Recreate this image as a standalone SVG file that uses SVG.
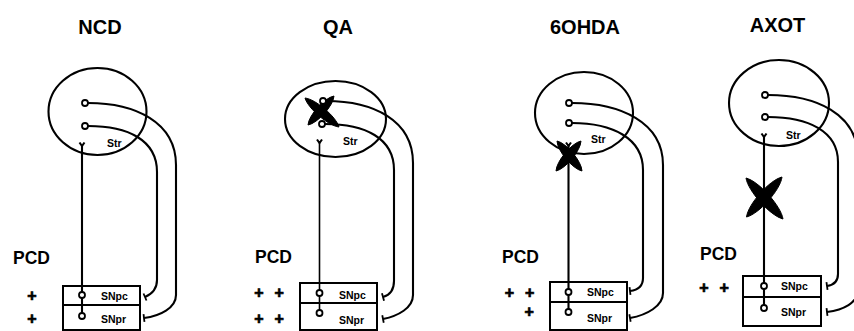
<svg xmlns="http://www.w3.org/2000/svg" width="854" height="331" viewBox="0 0 854 331">
<style>
.bg{fill:#fff}
.ln{fill:none;stroke:#000;stroke-width:2.1}
.str{fill:none;stroke:#000;stroke-width:2.1}
.term{fill:#fff;stroke:#000;stroke-width:1.8}
.box{fill:#fff;stroke:#000;stroke-width:2}
.x{fill:#000;stroke:#000;stroke-width:1}
.title{font-family:"Liberation Sans",Arial,sans-serif;font-weight:bold;font-size:20px;text-anchor:middle;fill:#000}
.pcd{font-family:"Liberation Sans",Arial,sans-serif;font-weight:bold;font-size:17.5px;fill:#000}
.plus{font-family:"Liberation Sans",Arial,sans-serif;font-weight:bold;font-size:16px;fill:#000;stroke:#000;stroke-width:0.7;word-spacing:6.3px}
.sm{font-family:"Liberation Sans",Arial,sans-serif;font-weight:bold;font-size:10.5px;fill:#000}
</style>
<defs>
<marker id="tick" markerUnits="userSpaceOnUse" markerWidth="10" markerHeight="10" refX="0" refY="0" orient="auto" viewBox="-5 -5 10 10" overflow="visible">
<path d="M0,-3.8 L0,3.8" stroke="#000" stroke-width="1.8" fill="none"/>
</marker>
</defs>
<rect class="bg" x="0" y="0" width="854" height="331"/>

<!-- Panel NCD -->
<g id="ncd">
<text class="title" x="100" y="34">NCD</text>
<g id="ncd-str"><ellipse class="str" cx="97.5" cy="111.5" rx="49" ry="43.5"/><text class="sm" x="107" y="147">Str</text></g>
<g id="ncd-sn"><rect class="box" x="63" y="286" width="77" height="44"/><line class="ln" x1="63" y1="305" x2="140" y2="305"/>
<text class="sm" x="101" y="299.5">SNpc</text><text class="sm" x="101" y="322.5">SNpr</text></g>
<text class="pcd" x="13" y="264">PCD</text>
<text class="plus" x="27.3" y="300.6">+</text>
<text class="plus" x="27.3" y="323.6">+</text>
</g>

<!-- Panel QA -->
<g id="qa">
<text class="title" x="338" y="34">QA</text>
<g id="qa-str"><ellipse class="str" cx="335.5" cy="119" rx="50.5" ry="38"/><text class="sm" x="343" y="145">Str</text></g>
<g id="qa-sn"><rect class="box" x="300" y="283" width="77" height="47"/><line class="ln" x1="300" y1="303" x2="377" y2="303"/>
<text class="sm" x="339" y="298.5">SNpc</text><text class="sm" x="339" y="323.5">SNpr</text></g>
<text class="pcd" x="255" y="263">PCD</text>
<text class="plus" x="254.3" y="297.6">+ +</text>
<text class="plus" x="254.3" y="323.6">+ +</text>
</g>

<!-- Panel 6OHDA -->
<g id="ohda">
<text class="title" x="585" y="34">6OHDA</text>
<g id="ohda-str"><ellipse class="str" cx="584" cy="113" rx="49" ry="41"/><text class="sm" x="591" y="143">Str</text></g>
<g id="ohda-sn"><rect class="box" x="550" y="282" width="77" height="48"/><line class="ln" x1="550" y1="302" x2="627" y2="302"/>
<text class="sm" x="587" y="295.5">SNpc</text><text class="sm" x="587" y="321.5">SNpr</text></g>
<text class="pcd" x="502" y="263">PCD</text>
<text class="plus" x="504.8" y="297.6">+ +</text>
<text class="plus" x="524.5" y="316.8">+</text>
</g>

<!-- Panel AXOT -->
<g id="axot">
<text class="title" x="777.5" y="32">AXOT</text>
<g id="axot-str"><ellipse class="str" cx="779" cy="103" rx="50" ry="43"/><text class="sm" x="786" y="139">Str</text></g>
<g id="axot-sn"><rect class="box" x="743" y="276" width="78" height="50"/><line class="ln" x1="743" y1="297" x2="821" y2="297"/>
<text class="sm" x="781" y="290">SNpc</text><text class="sm" x="781" y="316">SNpr</text></g>
<text class="pcd" x="700" y="260">PCD</text>
<text class="plus" x="699.3" y="292.6">+ +</text>
</g>

<!-- Connectors -->
<g id="connectors">
<!-- NCD -->
<path class="ln" d="M82,146 L82,316"/>
<path class="ln" d="M79.5,142.5 L82,146 L84.5,142.5"/>
<path class="ln" d="M88,103 C135,103 176,122 176,165 L176,295 C176,308 160,316 144,318" marker-end="url(#tick)"/>
<path class="ln" d="M88,126 C128,126 157,140 157,172 L157,280 C157,289 152,294 145,297" marker-end="url(#tick)"/>
<circle class="term" cx="85" cy="103" r="3"/><circle class="term" cx="85" cy="126" r="3"/>
<circle class="term" cx="82" cy="295" r="3"/><circle class="term" cx="82" cy="316" r="3"/>
<!-- QA -->
<path class="ln" d="M319.5,143 L319.5,313" style="stroke-width:1.6"/>
<path class="ln" d="M317,139.5 L319.5,143 L322,139.5"/>
<path class="ln" d="M326,101 C373,101 413,120 413,163 L413,295 C413,308 398,316 383,319" marker-end="url(#tick)"/>
<path class="ln" d="M325,124 C365,124 394,138 394,170 L394,281 C394,290 390,295 383,297" marker-end="url(#tick)"/>
<path class="x" d="M305,98 C307.9,108.4 328.3,125.8 339,127 C336.1,116.6 315.7,99.2 305,98 Z"/>
<path class="x" d="M334,96 C333.3,105.8 317.7,123.2 308,125 C308.7,115.2 324.3,97.8 334,96 Z"/>
<circle class="term" cx="323" cy="101" r="3"/><circle class="term" cx="322" cy="124" r="3"/>
<circle class="term" cx="319.5" cy="293" r="3"/><circle class="term" cx="319.5" cy="313" r="3"/>
<!-- 6OHDA -->
<path class="ln" d="M568.5,146 L568.5,312"/>
<path class="ln" d="M566,142.5 L568.5,146 L571,142.5"/>
<path class="ln" d="M572,103 C620,103 663,122 663,165 L663,293 C663,306 647,315 630,318" marker-end="url(#tick)"/>
<path class="ln" d="M572,123 C612,123 643,138 643,170 L643,278 C643,286 638,290 630,291" marker-end="url(#tick)"/>
<circle class="term" cx="569" cy="103" r="3"/><circle class="term" cx="569" cy="123" r="3"/>
<circle class="term" cx="568.5" cy="292" r="3"/><circle class="term" cx="568.5" cy="312" r="3"/>
<path class="x" d="M557,141 C557.4,150.85 572.4,168.85 582,171 C581.6,161.15 566.6,143.15 557,141 Z"/>
<path class="x" d="M581,141 C580.6,150.85 565.6,168.85 556,171 C556.4,161.15 571.4,143.15 581,141 Z"/>
<!-- AXOT -->
<path class="ln" d="M764,137 L764,308"/>
<path class="ln" d="M761.5,133.5 L764,137 L766.5,133.5"/>
<path class="ln" d="M768,95 C815,95 858,113 858,158 L858,290 C858,303 843,310 827,312" marker-end="url(#tick)"/>
<path class="ln" d="M768,117 C808,117 838,131 838,162 L838,274 C838,281 834,285 827,286" marker-end="url(#tick)"/>
<circle class="term" cx="765" cy="95" r="3"/><circle class="term" cx="765" cy="117" r="3"/>
<circle class="term" cx="764" cy="286" r="3"/><circle class="term" cx="764" cy="308" r="3"/>
<path class="x" d="M746,178 C747.95,191.1 770.15,215.7 783,219 C781.05,205.9 758.85,181.3 746,178 Z"/>
<path class="x" d="M782,177 C780.4,189.9 759.1,213.9 746.5,217 C748.1,204.1 769.4,180.1 782,177 Z"/>
</g>
</svg>
